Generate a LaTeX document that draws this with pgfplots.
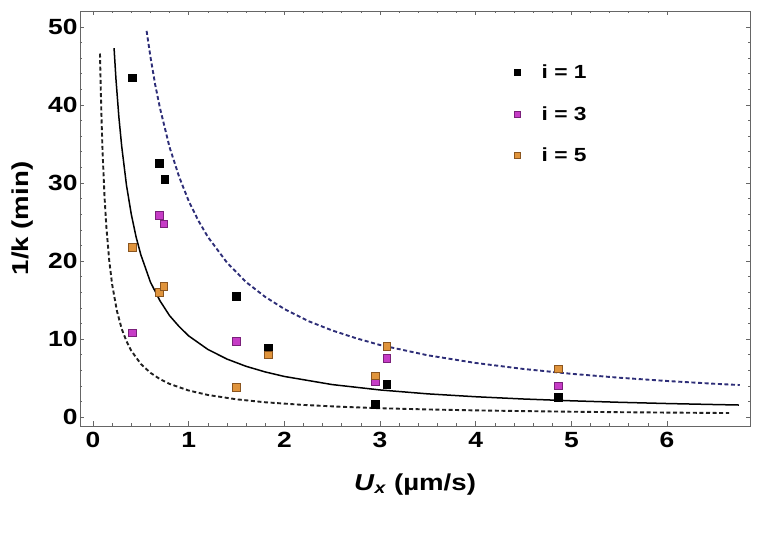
\documentclass[border=0pt]{standalone}
\usepackage{fontspec}
\setmainfont{Liberation Sans}[FakeStretch=1.2, BoldFeatures={FakeStretch=1.2}]
\usepackage{pgfplots}
\pgfplotsset{compat=1.18}

\definecolor{framegray}{HTML}{666666}
\definecolor{fitnavy}{HTML}{2E2E78}
\definecolor{fitdark}{HTML}{202020}
\definecolor{magfill}{HTML}{C63CC6}
\definecolor{magedge}{HTML}{7A207A}
\definecolor{orgfill}{HTML}{E0943C}
\definecolor{orgedge}{HTML}{8A5520}

\begin{document}
\begin{tikzpicture}
\path[use as bounding box] (-80pt,-125pt) rectangle (678pt,426pt);
\begin{axis}[
  scale only axis,
  width=670pt, height=415pt,
  xmin=-0.136, xmax=6.867,
  ymin=-1.15, ymax=52.05,
  xtick={0,1,2,3,4,5,6},
  ytick={0,10,20,30,40,50},
  minor x tick num=4,
  minor y tick num=4,
  tick align=inside,
  major tick length=4.5pt,
  minor tick length=2.5pt,
  axis line style={framegray, line width=0.8pt},
  every tick/.style={framegray, line width=0.6pt},
  /pgf/number format/assume math mode=true,
  ticklabel style={font=\fontsize{22}{22}\selectfont\bfseries},
  xticklabel style={yshift=-3pt},
  yticklabel style={xshift=1pt},
  xlabel={\textit{U}\textsubscript{\textit{x}}\ (µm/s)},
  ylabel={1/k (min)},
  label style={font=\fontsize{23}{23}\selectfont\bfseries},
  xlabel style={at={(axis description cs:0.5,-0.14)}, anchor=center},
  ylabel style={at={(axis description cs:-0.085,0.5)}, anchor=center},
  legend style={draw=none, fill=none, at={(axis description cs:0.644,0.88)},
    anchor=north west, row sep=22pt,
    font=\fontsize{19}{19}\selectfont\bfseries,
    /tikz/every odd column/.append style={column sep=19pt}},
  legend cell align=left,
  legend image code/.code={\draw[#1, mark size=3pt] plot coordinates {(0.3cm,0cm)};},
]

% lower bound fit
\addplot[fitdark, line width=1.9pt, dash pattern=on 4pt off 2.6pt, forget plot] coordinates {
  (0.073,46.6) (0.08,42.5) (0.09,37.8) (0.1,34.0) (0.12,28.3) (0.14,24.3)
  (0.17,20.0) (0.2,17.0) (0.25,13.6) (0.3,11.3) (0.35,9.71) (0.4,8.50)
  (0.5,6.80) (0.6,5.67) (0.7,4.86) (0.8,4.25) (1.0,3.40) (1.2,2.83)
  (1.5,2.27) (1.8,1.89) (2.2,1.55) (2.6,1.31) (3.0,1.13) (3.5,0.97)
  (4.0,0.85) (4.5,0.76) (5.0,0.68) (5.5,0.62) (6.0,0.57) (6.65,0.51)
};
% central fit
\addplot[black, line width=1.5pt, forget plot] coordinates {
  (0.22,47.3) (0.24,43.3) (0.27,38.5) (0.3,34.7) (0.35,29.7) (0.4,26.0)
  (0.45,23.1) (0.5,20.8) (0.6,17.3) (0.7,14.9) (0.8,13.0) (0.9,11.6)
  (1.0,10.4) (1.2,8.67) (1.4,7.43) (1.6,6.50) (1.8,5.78) (2.0,5.20)
  (2.5,4.16) (3.0,3.47) (3.5,2.97) (4.0,2.60) (4.5,2.31) (5.0,2.08)
  (5.5,1.89) (6.0,1.73) (6.5,1.60) (6.75,1.54)
};
% upper bound fit
\addplot[fitnavy, line width=1.9pt, dash pattern=on 4pt off 2.6pt, forget plot] coordinates {
  (0.56,49.5) (0.6,46.2) (0.65,42.6) (0.7,39.6) (0.8,34.6) (0.9,30.8)
  (1.0,27.7) (1.1,25.2) (1.2,23.1) (1.4,19.8) (1.6,17.3) (1.8,15.4)
  (2.0,13.85) (2.25,12.3) (2.5,11.1) (2.75,10.1) (3.0,9.23) (3.5,7.91)
  (4.0,6.93) (4.5,6.16) (5.0,5.54) (5.5,5.04) (6.0,4.62) (6.5,4.26) (6.76,4.10)
};

% measurements
\addplot[only marks, mark=square*, mark size=3.8pt, mark options={fill=black, draw=black, line width=0.5pt}] coordinates {
  (0.41,43.5) (0.69,32.5) (0.75,30.5) (1.50,15.5) (1.83,8.9) (2.95,1.6) (3.07,4.2) (4.86,2.5)
};
\addlegendentry{i = 1}
\addplot[only marks, mark=square*, mark size=3.8pt, mark options={fill=magfill, draw=magedge, line width=0.5pt}] coordinates {
  (0.69,25.9) (0.74,24.8) (0.41,10.8) (1.50,9.7) (2.95,4.6) (3.07,7.5) (4.86,4.0)
};
\addlegendentry{i = 3}
\addplot[only marks, mark=square*, mark size=3.8pt, mark options={fill=orgfill, draw=orgedge, line width=0.5pt}] coordinates {
  (0.41,21.8) (0.69,16.0) (0.74,16.8) (1.50,3.8) (1.83,8.0) (2.95,5.3) (3.07,9.1) (4.86,6.2)
};
\addlegendentry{i = 5}
\end{axis}
\end{tikzpicture}
\end{document}
